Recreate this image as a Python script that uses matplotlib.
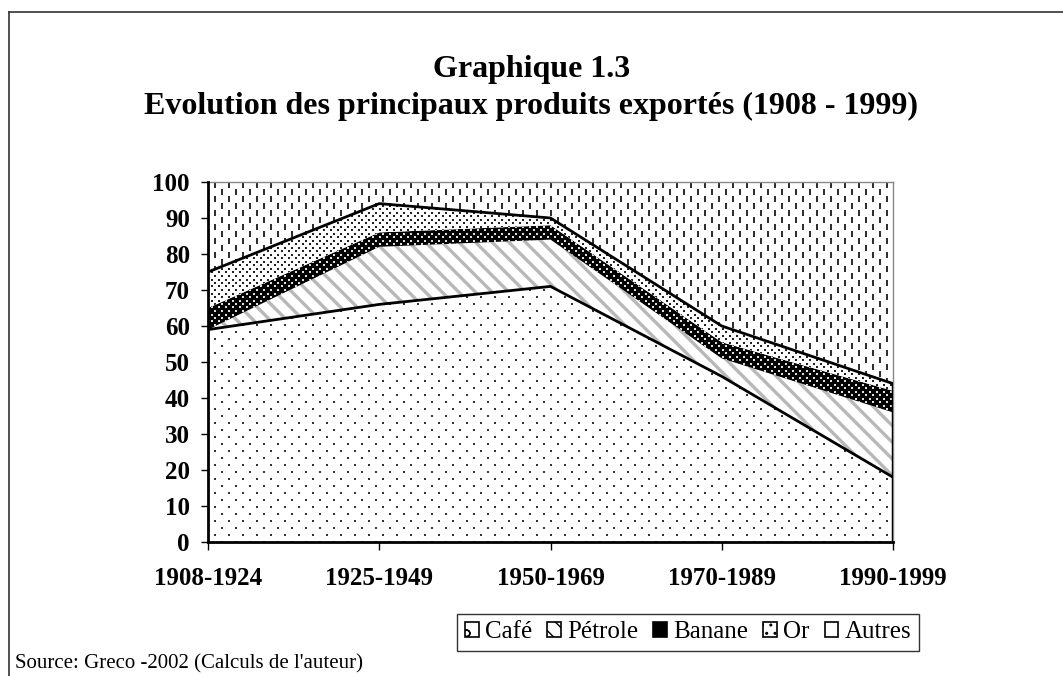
import numpy as np
import matplotlib
matplotlib.use("Agg")
import matplotlib.pyplot as plt
from matplotlib.patches import Patch
from matplotlib.lines import Line2D

plt.rcParams["font.family"] = ["Liberation Serif", "DejaVu Serif"]

# data (% of exports)
periods = ["1908-1924", "1925-1949", "1950-1969", "1970-1989", "1990-1999"]
cafe = [59, 66, 71, 46, 18]
petrole = [0, 16, 13, 5, 18]
banane = [6, 4, 4, 4.5, 6]
orr = [10, 8, 2, 4.5, 2]
autres = [25, 6, 10, 40, 56]
labels = ["Café", "Pétrole", "Banane", "Or", "Autres"]

x = np.arange(len(periods))
series = [cafe, petrole, banane, orr, autres]
cum = np.cumsum(np.array(series, dtype=float), axis=0)
base = np.vstack([np.zeros(len(periods)), cum[:-1]])

W, H = 1063, 676
fig = plt.figure(figsize=(W / 100, H / 100), dpi=100)
ax_box = [208 / W, 1 - 542 / H, 685 / W, 360 / H]
ax = fig.add_axes(ax_box)
ax_w, ax_h = 685, 360


def texture(coll, dx, dy, shift, **kw):
    """Staggered grid of markers (pixel spacing) clipped to one area."""
    xs = np.arange(0, ax_w + dx, dx)
    ys = np.arange(0, ax_h + dy, dy)
    gx, gy = np.meshgrid(xs, ys)
    gx = gx + (np.arange(len(ys))[:, None] % 2) * shift
    sc = ax.scatter(gx.ravel() / ax_w, gy.ravel() / ax_h, transform=ax.transAxes,
                    zorder=1.5, **kw)
    sc.set_clip_path(coll.get_paths()[0], transform=ax.transData)
    return sc


facecolors = ["white", "white", "black", "white", "white"]
fills = []
for i, fc in enumerate(facecolors):
    if labels[i] == "Pétrole":
        with plt.rc_context({"hatch.linewidth": 2.4, "hatch.color": "#b8b8b8"}):
            coll = ax.fill_between(x, base[i], cum[i], facecolor=fc, edgecolor="#b8b8b8",
                                   hatch="\\\\", linewidth=0, zorder=1)
    else:
        coll = ax.fill_between(x, base[i], cum[i], facecolor=fc, linewidth=0, zorder=1)
    fills.append(coll)

# area textures
texture(fills[0], 14, 7, 7, marker="s", s=1.6, c="#333333", linewidths=0)
texture(fills[2], 7, 3.5, 3.5, marker="s", s=1.4, c="#dddddd", linewidths=0)
texture(fills[3], 7, 3.5, 3.5, marker="s", s=1.4, c="#222222", linewidths=0)
texture(fills[4], 14, 7, 7, marker="|", s=20, c="#2a2a2a", linewidths=1.4)

# borders
ax.plot(x, cum[0], color="black", lw=2, zorder=3)
ax.plot(x, cum[3], color="black", lw=2, zorder=3)
ax.vlines(x[-1], 0, cum[3][-1], color="black", lw=2.5, zorder=3)

ax.set_xlim(0, 4)
ax.set_ylim(0, 100)
ax.set_yticks(range(0, 101, 10))
ax.set_xticks(x)
ax.set_xticklabels(periods)
for sp in ["top", "right"]:
    ax.spines[sp].set_color("#888888")
    ax.spines[sp].set_linewidth(1)
for sp in ["left", "bottom"]:
    ax.spines[sp].set_color("black")
    ax.spines[sp].set_linewidth(2)
    ax.spines[sp].set_zorder(4)
ax.tick_params(axis="y", length=5, width=1, pad=8, labelsize=18)
ax.tick_params(axis="x", length=6, width=1, pad=12, labelsize=18)
for t in ax.get_xticklabels() + ax.get_yticklabels():
    t.set_fontweight("bold")

# titles
fig.text(0.5, 1 - 66 / H, "Graphique 1.3", ha="center", va="center_baseline",
         fontsize=23, fontweight="bold")
fig.text(0.5, 1 - 103 / H, "Evolution des principaux produits exportés (1908 - 1999)",
         ha="center", va="center_baseline", fontsize=23, fontweight="bold")

# legend
leg_hatch = ["o", "\\\\", "..", "..", ":"]
leg_hcol = ["black", "#b8b8b8", "white", "black", "black"]
handles = []
for fc, h, hc, lab in zip(facecolors, leg_hatch, leg_hcol, labels):
    with plt.rc_context({"hatch.color": hc, "hatch.linewidth": 1.5}):
        handles.append(Patch(facecolor=fc, edgecolor="black", hatch=h, lw=1.2, label=lab))
leg = fig.legend(handles=handles, loc="center", ncol=5,
                 bbox_to_anchor=(688 / W, 1 - 632 / H), fontsize=18,
                 handlelength=0.55, handleheight=0.55, handletextpad=0.25,
                 columnspacing=0.6, borderpad=0.3, fancybox=False,
                 edgecolor="#333333", framealpha=1)
leg.get_frame().set_linewidth(1)

fig.text(15 / W, 1 - 664 / H, "Source: Greco -2002 (Calculs de l'auteur)",
         ha="left", va="center", fontsize=15)

# outer frame (top and left only)
fig.add_artist(Line2D([9 / W, 1], [1 - 12 / H, 1 - 12 / H], color="#333333", lw=1.2))
fig.add_artist(Line2D([9 / W, 9 / W], [0, 1 - 12 / H], color="#333333", lw=1.2))

fig.savefig("out.png", dpi=100)
